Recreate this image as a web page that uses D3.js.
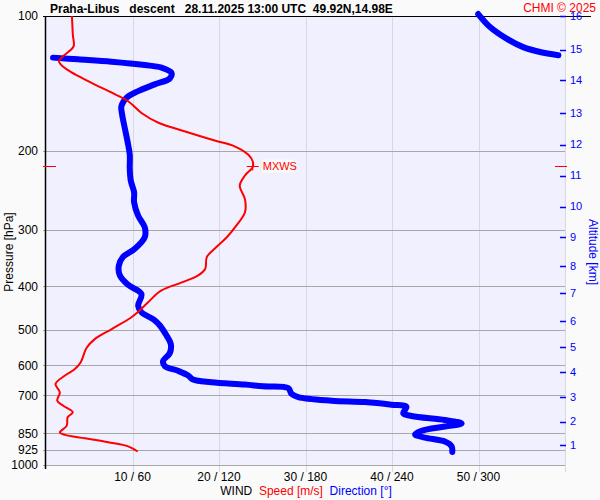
<!DOCTYPE html>
<html>
<head>
<meta charset="utf-8">
<script src="https://cdn.jsdelivr.net/npm/d3@7"></script>
<style>
body { margin: 0; background: #fafafa; }
svg { font-family: "Liberation Sans", Arial, sans-serif; }
</style>
</head>
<body>
<svg id="chart" width="600" height="500"></svg>
<script>
var title = "Praha-Libus   descent   28.11.2025 13:00 UTC  49.92N,14.98E";

var pressureTicks = [100, 200, 300, 400, 500, 600, 700, 850, 925, 1000];
var windTicks = [10, 20, 30, 40, 50, 60];
var windLabels = ["10 / 60", "20 / 120", "30 / 180", "40 / 240", "50 / 300", ""];

var altKm = [16, 15, 14, 13, 12, 11, 10, 9, 8, 7, 6, 5, 4, 3, 2, 1];
var altP = [100, 118.8, 139.1, 164.3, 193.3, 226.6, 265.8, 311.2, 359.8, 414.8, 478.9, 547.4, 620.3, 705.3, 800.6, 903.7];

// wind speed [m/s]
var speedP = [100, 109.9, 116.7, 119.7, 122.8, 126, 128.2, 131.5, 136, 142, 148.2, 154.8, 164.2, 172.9,
	180.6, 189.4, 195.1, 203.8, 210.8, 217, 226.6, 238.7, 255.7, 273.6, 293, 311, 327, 344, 366, 378,
	392, 409, 434, 457, 470, 498, 525, 548, 591, 612, 632, 660, 689, 719, 738, 763, 783, 817, 846,
	857, 872, 890, 909, 933];
var speedV = [3.0, 3.1, 3.2, 2.7, 2.0, 1.5, 1.7, 2.4, 3.7, 5.6, 7.6, 9.5, 11.0, 13.0,
	16.0, 19.5, 21.8, 23.4, 23.9, 23.9, 23.0, 22.4, 23.0, 23.0, 22.0, 20.9, 19.7, 18.6, 18.4, 17.6,
	15.7, 13.3, 11.8, 10.6, 9.8, 7.6, 5.6, 4.7, 4.0, 3.3, 2.2, 1.1, 1.6, 1.3, 2.0, 3.1, 2.5, 2.4, 1.6,
	2.2, 4.5, 7.2, 9.5, 10.6];

// wind direction [deg]
var dirP = [99, 105.8, 112.3, 117.3, 120.3, 122.3, 123.8, 124.9, 126.4, 128.6, 130.3, 133.8, 137.7,
	142, 147, 152.1, 158.8, 165.7, 177.4, 190, 203.8, 219, 232.6, 246.9, 259.9, 278.4, 295.6, 311,
	330, 344, 360, 378, 397, 416, 442, 457, 475, 489, 515, 538, 563, 587, 602, 617, 632, 645, 654,
	662, 668, 674, 694, 706, 719, 724, 734, 742, 767, 778, 794, 808, 821, 839, 855, 869, 887, 909, 935];
var dirV = [299.8, 308, 319.5, 331, 342.7, 355.4, 4.9, 22.2, 45.4, 68.5, 80.1, 87, 85.9,
	75.4, 63.9, 55.8, 52.3, 52.8, 54.6, 56.5, 58.1, 58.1, 58.8, 61.1, 61.1, 63.9, 68.5, 68.5,
	61.6, 53.4, 50.5, 51.2, 56.9, 66.2, 63.9, 66.2, 75, 79, 83.6, 86.6, 85.9, 81.2, 82.4, 91.6, 98.6, 102, 114.8,
	137.9, 150.6, 168, 170.3, 175, 198, 221.2, 239.7, 250, 247.8, 253.6, 276.7, 288.3, 276.7, 260.5, 256, 262.8, 276.7, 281.4, 281.8];

var mxwsP = 216;
var mxwsV = 23.9;

var svg = d3.select("#chart");
var plotL = 46, plotR = 565, plotT = 16, plotB = 465;

var y = d3.scaleLog().domain([100, 1000]).range([plotT, plotB]);
var xs = d3.scaleLinear().domain([0, 60]).range([plotL, plotR]);
var xd = d3.scaleLinear().domain([0, 360]).range([plotL, plotR]);

svg.append("rect")
	.attr("x", plotL).attr("y", plotT)
	.attr("width", plotR - plotL).attr("height", plotB - plotT)
	.attr("fill", "#f0f0ff");

// vertical grid
svg.selectAll(".vgrid").data(windTicks).enter().append("line")
	.attr("x1", function(d) { return Math.round(xs(d)) + 0.5; })
	.attr("x2", function(d) { return Math.round(xs(d)) + 0.5; })
	.attr("y1", plotT).attr("y2", plotB + 7)
	.attr("stroke", "#d8d8e0");

// horizontal grid
svg.selectAll(".hgrid").data(pressureTicks.slice(1)).enter().append("line")
	.attr("x1", plotL - 3).attr("x2", plotR)
	.attr("y1", function(d) { return Math.round(y(d)) + 0.5; })
	.attr("y2", function(d) { return Math.round(y(d)) + 0.5; })
	.attr("stroke", "#a8a8a8");

svg.append("line")
	.attr("x1", plotL - 3).attr("x2", 591)
	.attr("y1", Math.round(y(100)) + 0.5).attr("y2", Math.round(y(100)) + 0.5)
	.attr("stroke", "#000");

svg.append("line")
	.attr("x1", plotL - 0.5).attr("x2", plotL - 0.5)
	.attr("y1", plotT).attr("y2", plotB + 4)
	.attr("stroke", "#000").attr("stroke-width", 1.5);

// pressure labels
svg.selectAll(".plab").data(pressureTicks).enter().append("text")
	.attr("x", 38)
	.attr("y", function(d) { return y(d); })
	.attr("dy", "0.35em")
	.attr("text-anchor", "end")
	.attr("font-size", "12px")
	.attr("fill", "#000")
	.text(function(d) { return d; });

svg.append("text")
	.attr("transform", "translate(13,252) rotate(-90)")
	.attr("text-anchor", "middle")
	.attr("font-size", "12px")
	.text("Pressure [hPa]");

// altitude axis
svg.selectAll(".atick").data(altKm).enter().append("line")
	.attr("x1", 560).attr("x2", 566)
	.attr("y1", function(d, i) { return Math.round(y(altP[i])) + 0.5; })
	.attr("y2", function(d, i) { return Math.round(y(altP[i])) + 0.5; })
	.attr("stroke", "#0000ff").attr("stroke-width", 1.5);

svg.selectAll(".alab").data(altKm).enter().append("text")
	.attr("x", 570)
	.attr("y", function(d, i) { return y(altP[i]); })
	.attr("dy", "0.35em")
	.attr("font-size", "11px")
	.attr("fill", "#0000ff")
	.text(function(d) { return d; });

svg.append("text")
	.attr("transform", "translate(589,252) rotate(90)")
	.attr("text-anchor", "middle")
	.attr("font-size", "12px")
	.attr("fill", "#0000ff")
	.text("Altitude [km]");

// wind labels
svg.selectAll(".wlab").data(windTicks).enter().append("text")
	.attr("x", function(d) { return xs(d); })
	.attr("y", 481)
	.attr("text-anchor", "middle")
	.attr("font-size", "12px")
	.text(function(d, i) { return windLabels[i]; });

var leg = svg.append("text").attr("x", 306).attr("y", 495)
	.attr("text-anchor", "middle").attr("font-size", "12px")
	.attr("xml:space", "preserve").style("white-space", "pre");
leg.append("tspan").attr("fill", "#000").text("WIND  ");
leg.append("tspan").attr("fill", "#ff0000").text("Speed [m/s]  ");
leg.append("tspan").attr("fill", "#0000ff").text("Direction [°]");

// direction curve, split where it wraps through north
var dirSegs = [[]];
dirV.forEach(function(v, i) {
	if (i > 0 && Math.abs(v - dirV[i - 1]) > 180) dirSegs.push([]);
	dirSegs[dirSegs.length - 1].push([v, dirP[i]]);
});

var dirLine = d3.line()
	.x(function(d) { return xd(d[0]); })
	.y(function(d) { return y(d[1]); })
	.curve(d3.curveCatmullRom);

svg.selectAll(".dir").data(dirSegs).enter().append("path")
	.attr("d", dirLine)
	.attr("fill", "none")
	.attr("stroke", "#0000ff")
	.attr("stroke-width", 6)
	.attr("stroke-linecap", "round")
	.attr("stroke-linejoin", "round");

var speedLine = d3.line()
	.x(function(d, i) { return xs(d); })
	.y(function(d, i) { return y(speedP[i]); })
	.curve(d3.curveCatmullRom);

svg.append("path")
	.attr("d", speedLine(speedV))
	.attr("fill", "none")
	.attr("stroke", "#ff0000")
	.attr("stroke-width", 2);

// MXWS marker
var my = Math.round(y(mxwsP)) + 0.5;
svg.append("line").attr("x1", 43).attr("x2", 56).attr("y1", my).attr("y2", my).attr("stroke", "#ff0000");
svg.append("line").attr("x1", 555).attr("x2", 567).attr("y1", my).attr("y2", my).attr("stroke", "#ff0000");
svg.append("line").attr("x1", xs(mxwsV) - 6).attr("x2", xs(mxwsV) + 6).attr("y1", my).attr("y2", my).attr("stroke", "#ff0000");
svg.append("line").attr("x1", xs(mxwsV)).attr("x2", xs(mxwsV)).attr("y1", my - 4).attr("y2", my + 4).attr("stroke", "#ff0000");
svg.append("rect").attr("x", xs(mxwsV) + 9).attr("y", my - 7).attr("width", 32).attr("height", 13).attr("fill", "#fafafa");
svg.append("text").attr("x", xs(mxwsV) + 10).attr("y", my).attr("dy", "0.35em")
	.attr("font-size", "11px").attr("fill", "#ff0000").text("MXWS");

// titles
svg.append("text").attr("x", 50).attr("y", 13)
	.attr("font-size", "12px").attr("font-weight", "bold")
	.attr("xml:space", "preserve").style("white-space", "pre")
	.text(title);

svg.append("text").attr("x", 596).attr("y", 12)
	.attr("text-anchor", "end").attr("font-size", "12px").attr("fill", "#ff0000")
	.text("CHMI © 2025");
</script>
</body>
</html>
